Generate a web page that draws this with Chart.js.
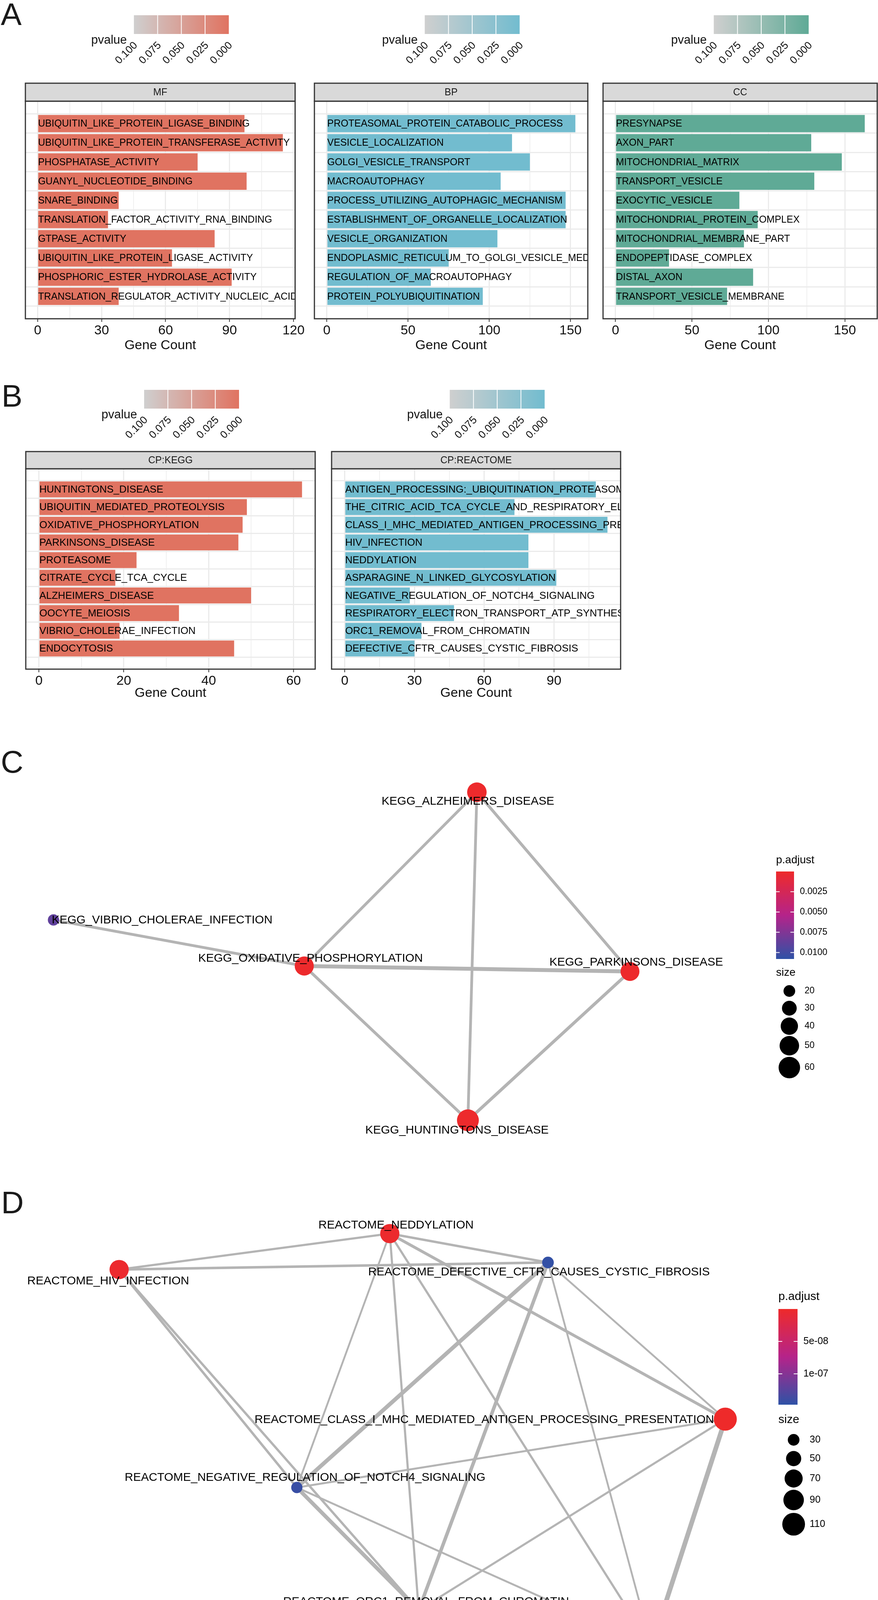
<!DOCTYPE html>
<html>
<head>
<meta charset="utf-8">
<script src="https://cdn.jsdelivr.net/npm/chart.js@4.4.1/dist/chart.umd.min.js"></script>
<style>
  body { margin: 0; background: #fff; width: 2248px; height: 4250px; position: relative; overflow: hidden;
         font-family: "Liberation Sans", Arial, Helvetica, sans-serif; }
  canvas { position: absolute; }
  .tag { position: absolute; font-size: 80px; line-height: 80px; color: #1a1a1a; }
</style>
</head>
<body>
<div class="tag" style="left:2px;top:-3px">A</div>
<div class="tag" style="left:4px;top:974px">B</div>
<div class="tag" style="left:2px;top:1911px">C</div>
<div class="tag" style="left:3px;top:3039px">D</div>

<script>
// =====================================================
// DATOS — barras GO / KEGG / REACTOME y redes
// =====================================================

const mfTerminos = ["UBIQUITIN_LIKE_PROTEIN_LIGASE_BINDING", "UBIQUITIN_LIKE_PROTEIN_TRANSFERASE_ACTIVITY",
  "PHOSPHATASE_ACTIVITY", "GUANYL_NUCLEOTIDE_BINDING", "SNARE_BINDING", "TRANSLATION_FACTOR_ACTIVITY_RNA_BINDING",
  "GTPASE_ACTIVITY", "UBIQUITIN_LIKE_PROTEIN_LIGASE_ACTIVITY", "PHOSPHORIC_ESTER_HYDROLASE_ACTIVITY",
  "TRANSLATION_REGULATOR_ACTIVITY_NUCLEIC_ACID_BINDING"];
const mfConteos = [97, 115, 75, 98, 38, 33, 83, 63, 91, 38];

const bpTerminos = ["PROTEASOMAL_PROTEIN_CATABOLIC_PROCESS", "VESICLE_LOCALIZATION", "GOLGI_VESICLE_TRANSPORT",
  "MACROAUTOPHAGY", "PROCESS_UTILIZING_AUTOPHAGIC_MECHANISM", "ESTABLISHMENT_OF_ORGANELLE_LOCALIZATION",
  "VESICLE_ORGANIZATION", "ENDOPLASMIC_RETICULUM_TO_GOLGI_VESICLE_MEDIATED_TRANSPORT",
  "REGULATION_OF_MACROAUTOPHAGY", "PROTEIN_POLYUBIQUITINATION"];
const bpConteos = [153, 114, 125, 107, 147, 147, 105, 75, 64, 96];

const ccTerminos = ["PRESYNAPSE", "AXON_PART", "MITOCHONDRIAL_MATRIX", "TRANSPORT_VESICLE", "EXOCYTIC_VESICLE",
  "MITOCHONDRIAL_PROTEIN_COMPLEX", "MITOCHONDRIAL_MEMBRANE_PART", "ENDOPEPTIDASE_COMPLEX", "DISTAL_AXON",
  "TRANSPORT_VESICLE_MEMBRANE"];
const ccConteos = [163, 128, 148, 130, 81, 93, 84, 35, 90, 73];

const keggTerminos = ["HUNTINGTONS_DISEASE", "UBIQUITIN_MEDIATED_PROTEOLYSIS", "OXIDATIVE_PHOSPHORYLATION",
  "PARKINSONS_DISEASE", "PROTEASOME", "CITRATE_CYCLE_TCA_CYCLE", "ALZHEIMERS_DISEASE", "OOCYTE_MEIOSIS",
  "VIBRIO_CHOLERAE_INFECTION", "ENDOCYTOSIS"];
const keggConteos = [62, 49, 48, 47, 23, 18, 50, 33, 19, 46];

const reacTerminos = ["ANTIGEN_PROCESSING:_UBIQUITINATION_PROTEASOME_DEGRADATION",
  "THE_CITRIC_ACID_TCA_CYCLE_AND_RESPIRATORY_ELECTRON_TRANSPORT",
  "CLASS_I_MHC_MEDIATED_ANTIGEN_PROCESSING_PRESENTATION", "HIV_INFECTION", "NEDDYLATION",
  "ASPARAGINE_N_LINKED_GLYCOSYLATION", "NEGATIVE_REGULATION_OF_NOTCH4_SIGNALING",
  "RESPIRATORY_ELECTRON_TRANSPORT_ATP_SYNTHESIS_BY_CHEMIOSMOTIC_COUPLING_AND_HEAT_PRODUCTION_BY_UNCOUPLING_PROTEINS_",
  "ORC1_REMOVAL_FROM_CHROMATIN", "DEFECTIVE_CFTR_CAUSES_CYSTIC_FIBROSIS"];
const reacConteos = [108, 73, 113, 79, 79, 91, 28, 47, 33, 30];

const pvalTicks = [0.1, 0.075, 0.05, 0.025, 0];
const pvalEtiquetas = ["0.100", "0.075", "0.050", "0.025", "0.000"];

// ---- red KEGG (C) ----
const keggNodos = ["KEGG_ALZHEIMERS_DISEASE", "KEGG_VIBRIO_CHOLERAE_INFECTION", "KEGG_OXIDATIVE_PHOSPHORYLATION",
  "KEGG_PARKINSONS_DISEASE", "KEGG_HUNTINGTONS_DISEASE"];
const keggNodoX = [12.21, 1.37, 7.79, 16.13, 11.98];
const keggNodoY = [9.72, 6.45, 5.27, 5.13, 1.32];
const keggEtqX = [11.98, 4.15, 7.95, 16.29, 11.70];
const keggEtqY = [9.48, 6.44, 5.46, 5.36, 1.06];
const keggTam = [50, 19, 48, 47, 62];
const keggPadj = [0.0001, 0.0088, 0.0001, 0.0001, 0.0001];
const keggAristaA = [0, 0, 0, 2, 2, 3, 1];
const keggAristaB = [2, 3, 4, 3, 4, 4, 2];
const keggAristaPeso = [0.38, 0.38, 0.36, 0.58, 0.38, 0.42, 0.36];
const keggPadjTicks = [0.0025, 0.005, 0.0075, 0.01];
const keggPadjEtq = ["0.0025", "0.0050", "0.0075", "0.0100"];
const keggTamLeyenda = [20, 30, 40, 50, 60];

// ---- red REACTOME (D) ----
const reacNodos = ["REACTOME_NEDDYLATION", "REACTOME_HIV_INFECTION", "REACTOME_DEFECTIVE_CFTR_CAUSES_CYSTIC_FIBROSIS",
  "REACTOME_CLASS_I_MHC_MEDIATED_ANTIGEN_PROCESSING_PRESENTATION", "REACTOME_NEGATIVE_REGULATION_OF_NOTCH4_SIGNALING",
  "REACTOME_ORC1_REMOVAL_FROM_CHROMATIN", "REACTOME_ANTIGEN_PROCESSING:_UBIQUITINATION_PROTEASOME_DEGRADATION"];
const reacNodoX = [9.98, 3.05, 14.03, 18.57, 7.60, 10.72, 16.68];
const reacNodoY = [10.92, 10.00, 10.18, 6.17, 4.42, 1.28, 0.35];
const reacEtqX = [10.14, 2.77, 13.80, 12.40, 7.81, 10.91, 11.38];
const reacEtqY = [11.13, 9.70, 9.93, 6.15, 4.67, 1.49, 0.31];
const reacTam = [79, 79, 30, 113, 28, 33, 108];
const reacPadj = [2e-9, 3e-9, 1.45e-7, 1e-10, 1.42e-7, 1.40e-7, 1e-10];
const reacAristaA = [1, 1, 1, 1, 0, 0, 0, 0, 0, 2, 2, 2, 2, 3, 3, 3, 4, 4, 5];
const reacAristaB = [0, 2, 4, 5, 2, 4, 5, 6, 3, 4, 5, 3, 6, 4, 5, 6, 5, 6, 6];
const reacAristaPeso = [0.25, 0.32, 0.3, 0.28, 0.3, 0.2, 0.25, 0.26, 0.38, 0.6, 0.5, 0.2, 0.2, 0.22, 0.24, 0.72, 0.55, 0.2, 0.28];
const reacPadjTicks = [5e-8, 1e-7];
const reacPadjEtq = ["5e-08", "1e-07"];
const reacTamLeyenda = [30, 50, 70, 90, 110];

// =====================================================
// UTILIDADES
// =====================================================
const FUENTE = '"Liberation Sans", Arial, Helvetica, sans-serif';
Chart.defaults.font.family = FUENTE;
Chart.defaults.color = "#111";

function lienzo(id, c) {
  const el = document.createElement("canvas");
  el.id = id;
  el.width = c.w;
  el.height = c.h;
  el.style.left = c.left + "px";
  el.style.top = c.top + "px";
  el.style.width = c.w + "px";
  el.style.height = c.h + "px";
  document.body.appendChild(el);
  return el;
}

// rojo -> magenta -> azul (p.adjust bajo arriba)
const paradas = [[238, 42, 42], [181, 35, 138], [46, 82, 166]];
function colorPadj(t) {
  t = Math.max(0, Math.min(1, t));
  const s = t < 0.5 ? 0 : 1;
  const f = t < 0.5 ? t / 0.5 : (t - 0.5) / 0.5;
  const a = paradas[s], b = paradas[s + 1];
  const c = a.map((v, k) => Math.round(v + (b[k] - v) * f));
  return `rgb(${c[0]},${c[1]},${c[2]})`;
}

function radio(s, e) {
  const f = (s - e.sMin) / (e.sMax - e.sMin);
  return Math.sqrt(e.rMin * e.rMin + f * (e.rMax * e.rMax - e.rMin * e.rMin));
}

function leyendaP(ctx, cx, top, color) {
  const w = 243, h = 48, x0 = cx - w / 2;
  ctx.save();
  const g = ctx.createLinearGradient(x0, 0, x0 + w, 0);
  g.addColorStop(0, "#CFCFCF");
  g.addColorStop(1, color);
  ctx.fillStyle = g;
  ctx.fillRect(x0, top, w, h);
  ctx.strokeStyle = "#fff";
  ctx.lineWidth = 2;
  ctx.fillStyle = "#111";
  ctx.font = `27px ${FUENTE}`;
  pvalTicks.forEach((v, i) => {
    const px = x0 + (1 - v / 0.1) * w;
    if (i > 0 && i < pvalTicks.length - 1) {
      ctx.beginPath();
      ctx.moveTo(px, top);
      ctx.lineTo(px, top + h);
      ctx.stroke();
    }
    ctx.save();
    ctx.translate(px + 5, top + h + 25);
    ctx.rotate(-Math.PI / 4);
    ctx.textAlign = "right";
    ctx.textBaseline = "middle";
    ctx.fillText(pvalEtiquetas[i], 0, 0);
    ctx.restore();
  });
  ctx.font = `31px ${FUENTE}`;
  ctx.textAlign = "right";
  ctx.textBaseline = "alphabetic";
  ctx.fillText("pvalue", x0 - 18, top + h + 25);
  ctx.restore();
}

const decoPanel = {
  id: "decoPanel",
  afterDatasetsDraw(chart, args, o) {
    const { ctx, chartArea: a, scales: { x, y } } = chart;
    // textos dentro de las barras
    ctx.save();
    ctx.beginPath();
    ctx.rect(a.left, a.top, a.right - a.left, a.bottom - a.top);
    ctx.clip();
    ctx.font = `${o.fuente}px ${FUENTE}`;
    ctx.fillStyle = "#000";
    ctx.textAlign = "left";
    ctx.textBaseline = "middle";
    o.terminos.forEach((t, i) => ctx.fillText(t, x.getPixelForValue(0) + 1, y.getPixelForValue(i + 1) + 1));
    ctx.restore();

    // marco y tira
    ctx.save();
    ctx.strokeStyle = "#333";
    ctx.lineWidth = 3;
    ctx.strokeRect(a.left, a.top, a.right - a.left, a.bottom - a.top);
    ctx.fillStyle = "#D9D9D9";
    ctx.fillRect(a.left, a.top - o.tiraH, a.right - a.left, o.tiraH);
    ctx.strokeRect(a.left, a.top - o.tiraH, a.right - a.left, o.tiraH);
    ctx.fillStyle = "#1A1A1A";
    ctx.font = `25px ${FUENTE}`;
    ctx.textAlign = "center";
    ctx.textBaseline = "middle";
    ctx.fillText(o.tira, (a.left + a.right) / 2, a.top - o.tiraH / 2 + 1);
    ctx.restore();

    leyendaP(ctx, (a.left + a.right) / 2 + 54, o.leyTop, o.color);
  }
};

function panelBarras(id, tira, terminos, conteos, color, paso, c) {
  const maxC = Math.max(...conteos);
  const mayor = v => Math.abs(v / paso - Math.round(v / paso)) < 1e-6;
  return new Chart(lienzo(id, c), {
    type: "bar",
    data: {
      datasets: [{
        data: conteos.map((n, i) => ({ x: n, y: i + 1 })),
        backgroundColor: color,
        borderWidth: 0,
        barPercentage: 0.9,
        categoryPercentage: 1
      }]
    },
    options: {
      indexAxis: "y",
      responsive: false,
      animation: false,
      devicePixelRatio: 1,
      events: [],
      layout: { padding: { left: c.pl, right: c.pr, top: c.pt, bottom: 0 } },
      plugins: {
        legend: { display: false },
        tooltip: { enabled: false },
        decoPanel: { tira, terminos, color, tiraH: c.tiraH, leyTop: c.leyTop, fuente: c.fuente }
      },
      scales: {
        x: {
          type: "linear",
          min: -0.05 * maxC,
          max: 1.05 * maxC,
          afterFit: s => { s.height = c.ejeH; },
          border: { display: false },
          grid: {
            color: "#EBEBEB",
            lineWidth: g => (g.tick && mayor(g.tick.value) ? 3 : 1.5),
            tickColor: g => (g.tick && mayor(g.tick.value) ? "#333" : "rgba(0,0,0,0)"),
            tickLength: 8,
            tickWidth: 2
          },
          ticks: {
            stepSize: paso / 2,
            includeBounds: false,
            autoSkip: false,
            maxRotation: 0,
            callback: v => (mayor(v) ? v : ""),
            font: { size: 34 },
            color: "#111",
            padding: 2
          },
          title: { display: true, text: "Gene Count", font: { size: 34 }, color: "#111", padding: { top: 0, bottom: 5 } }
        },
        y: {
          type: "linear",
          min: 0.4,
          max: 10.6,
          reverse: true,
          afterFit: s => { s.width = 0; },
          border: { display: false },
          grid: { color: "#EBEBEB", lineWidth: 3, drawTicks: false },
          ticks: { display: false, stepSize: 1, includeBounds: false }
        }
      }
    },
    plugins: [decoPanel]
  });
}

function leyendaRed(ctx, L, top) {
  ctx.save();
  ctx.translate(0, -top);
  ctx.fillStyle = "#000";
  ctx.font = `${L.tituloF}px ${FUENTE}`;
  ctx.textAlign = "left";
  ctx.textBaseline = "alphabetic";
  ctx.fillText("p.adjust", L.x, L.tituloY);
  const g = ctx.createLinearGradient(0, L.barTop, 0, L.barTop + L.barH);
  for (let k = 0; k <= 20; k++) g.addColorStop(k / 20, colorPadj(k / 20));
  ctx.fillStyle = g;
  ctx.fillRect(L.x, L.barTop, L.barW, L.barH);
  ctx.strokeStyle = "#fff";
  ctx.lineWidth = 2;
  ctx.fillStyle = "#000";
  ctx.font = `${L.etqF}px ${FUENTE}`;
  ctx.textBaseline = "middle";
  L.ticks.forEach((v, i) => {
    const py = L.barTop + (v - L.lo) / (L.hi - L.lo) * L.barH;
    ctx.beginPath();
    ctx.moveTo(L.x, py); ctx.lineTo(L.x + L.barW * 0.2, py);
    ctx.moveTo(L.x + L.barW * 0.8, py); ctx.lineTo(L.x + L.barW, py);
    ctx.stroke();
    ctx.fillText(L.etq[i], L.x + L.barW + 15, py);
  });
  ctx.font = `${L.tituloF}px ${FUENTE}`;
  ctx.textBaseline = "alphabetic";
  ctx.fillText("size", L.x, L.tamY);
  ctx.font = `${L.etqF}px ${FUENTE}`;
  ctx.textBaseline = "middle";
  L.tamVals.forEach((s, i) => {
    ctx.beginPath();
    ctx.arc(L.circX, L.tamYs[i], radio(s, L.esc), 0, Math.PI * 2);
    ctx.fill();
    ctx.fillText(String(s), L.etqTamX, L.tamYs[i]);
  });
  ctx.restore();
}

const decoRed = {
  id: "decoRed",
  afterDatasetsDraw(chart, args, o) {
    const { ctx, scales: { x, y } } = chart;
    ctx.save();
    ctx.font = `30px ${FUENTE}`;
    ctx.fillStyle = "#000";
    ctx.textAlign = "center";
    ctx.textBaseline = "middle";
    o.nombres.forEach((n, i) => ctx.fillText(n, x.getPixelForValue(o.etqX[i]), y.getPixelForValue(o.etqY[i])));
    ctx.restore();
    leyendaRed(ctx, o.ley, o.top);
  }
};

function panelRed(id, r, c) {
  const datasets = r.aristaA.map((a, k) => ({
    type: "line",
    data: [{ x: r.nodoX[a], y: r.nodoY[a] }, { x: r.nodoX[r.aristaB[k]], y: r.nodoY[r.aristaB[k]] }],
    borderColor: "#B4B4B4",
    borderWidth: 2 + 14 * r.peso[k],
    pointRadius: 0,
    fill: false,
    order: 2
  }));
  datasets.push({
    type: "bubble",
    data: r.nodoX.map((x, i) => ({ x, y: r.nodoY[i], r: radio(r.tam[i], r.ley.esc) })),
    backgroundColor: r.padj.map(p => colorPadj((p - r.ley.lo) / (r.ley.hi - r.ley.lo))),
    borderWidth: 0,
    order: 1
  });
  return new Chart(lienzo(id, c), {
    type: "bubble",
    data: { datasets },
    options: {
      responsive: false,
      animation: false,
      devicePixelRatio: 1,
      events: [],
      layout: { padding: 0, autoPadding: false },
      plugins: {
        legend: { display: false },
        tooltip: { enabled: false },
        decoRed: { nombres: r.nombres, etqX: r.etqX, etqY: r.etqY, ley: r.ley, top: c.top }
      },
      scales: {
        x: { type: "linear", min: 0, max: c.w / 100, display: false },
        y: { type: "linear", min: 0, max: c.h / 100, display: false }
      }
    },
    plugins: [decoRed]
  });
}

// =====================================================
// PANELES
// =====================================================
const cajaA = { top: 0, h: 910, pt: 259, ejeH: 94, tiraH: 46, leyTop: 39, fuente: 25 };
const cajaB = { top: 940, h: 860, pt: 260, ejeH: 87, tiraH: 44, leyTop: 58, fuente: 26 };

panelBarras("mf", "MF", mfTerminos, mfConteos, "#E07361", 30, { ...cajaA, left: 0, w: 782, pl: 65, pr: 16 });
panelBarras("bp", "BP", bpTerminos, bpConteos, "#72BCCF", 50, { ...cajaA, left: 782, w: 748, pl: 23, pr: 25 });
panelBarras("cc", "CC", ccTerminos, ccConteos, "#5FAA96", 50, { ...cajaA, left: 1530, w: 718, pl: 14, pr: 2 });
panelBarras("kegg", "CP:KEGG", keggTerminos, keggConteos, "#E07361", 20, { ...cajaB, left: 0, w: 828, pl: 66, pr: 21 });
panelBarras("reac", "CP:REACTOME", reacTerminos, reacConteos, "#72BCCF", 30, { ...cajaB, left: 828, w: 800, pl: 21, pr: 39 });

panelRed("redKegg", {
  nombres: keggNodos, nodoX: keggNodoX, nodoY: keggNodoY, etqX: keggEtqX, etqY: keggEtqY,
  tam: keggTam, padj: keggPadj, aristaA: keggAristaA, aristaB: keggAristaB, peso: keggAristaPeso,
  ley: {
    x: 1987, tituloY: 2210, barTop: 2231, barH: 224, barW: 46, lo: 0, hi: 0.0108,
    ticks: keggPadjTicks, etq: keggPadjEtq, tamY: 2498, tamVals: keggTamLeyenda,
    tamYs: [2537, 2581, 2627, 2677, 2733], circX: 2021, etqTamX: 2060, tituloF: 28, etqF: 23,
    esc: { sMin: 19, sMax: 62, rMin: 14.5, rMax: 28 }
  }
}, { left: 0, top: 1850, w: 2248, h: 1150 });

panelRed("redReac", {
  nombres: reacNodos, nodoX: reacNodoX, nodoY: reacNodoY, etqX: reacEtqX, etqY: reacEtqY,
  tam: reacTam, padj: reacPadj, aristaA: reacAristaA, aristaB: reacAristaB, peso: reacAristaPeso,
  ley: {
    x: 1993, tituloY: 3328, barTop: 3351, barH: 245, barW: 49, lo: 0, hi: 1.476e-7,
    ticks: reacPadjTicks, etq: reacPadjEtq, tamY: 3643, tamVals: reacTamLeyenda,
    tamYs: [3686, 3734, 3785, 3840, 3902], circX: 2032, etqTamX: 2073, tituloF: 30, etqF: 25,
    esc: { sMin: 28, sMax: 113, rMin: 14.4, rMax: 29.5 }
  }
}, { left: 0, top: 3000, w: 2248, h: 1250 });
</script>
</body>
</html>
